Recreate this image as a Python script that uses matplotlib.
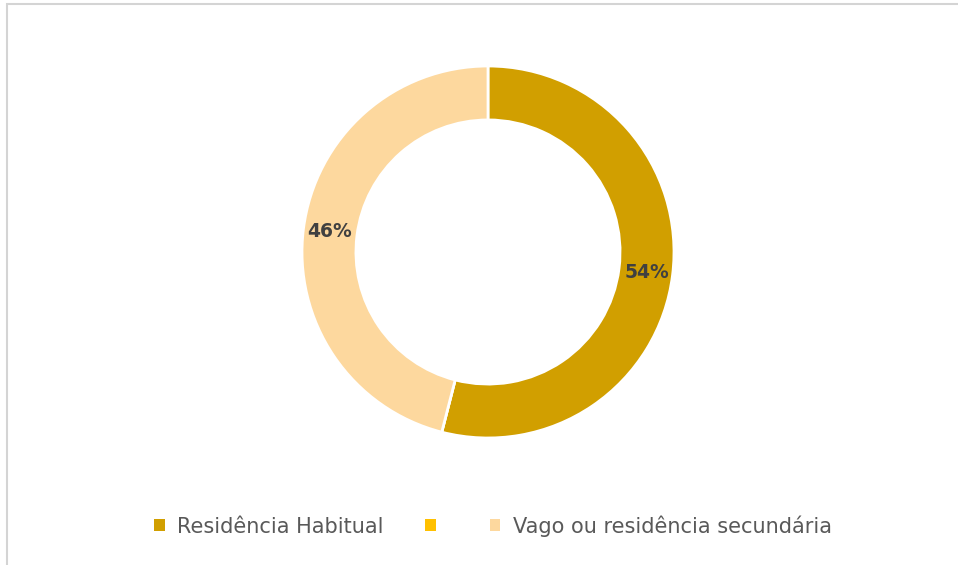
import matplotlib.pyplot as plt
from matplotlib.patches import Patch, Rectangle

categorias = ['Residência Habitual', '', 'Vago ou residência secundária']
valores = [54, 0, 46]
cores = ['#D19F00', '#FFC000', '#FDD89E']

W, H = 958, 565
fig = plt.figure(figsize=(W / 100, H / 100), dpi=100)
fig.patch.set_facecolor('white')

# moldura cinzenta (corta à direita e em baixo)
fig.add_artist(Rectangle((7 / W, -0.05), 1.1, (561 / H) + 0.05, transform=fig.transFigure,
                         fill=False, edgecolor='#D4D4D4', linewidth=1.5))

cx, cy, r = 488, 252, 186
ax = fig.add_axes([(cx - r) / W, (H - cy - r) / H, 2 * r / W, 2 * r / H])

wedges, texts, autotexts = ax.pie(
    valores, colors=cores, startangle=90, counterclock=False, radius=1,
    autopct=lambda p: f'{p:.0f}%' if p > 0 else '', pctdistance=0.86,
    wedgeprops=dict(width=0.29, edgecolor='white', linewidth=2),
    textprops=dict(fontsize=13.5, fontweight='bold', color='#404040'))
ax.set_xlim(-1, 1)
ax.set_ylim(-1, 1)
ax.set_aspect('equal')
ax.axis('off')

handles = [Patch(facecolor=c, edgecolor='none') for c in cores]
fig.legend(handles, categorias, loc='center', bbox_to_anchor=(493 / W, (H - 526) / H),
           ncol=3, frameon=False, fontsize=15, handlelength=0.5, handleheight=0.5,
           handletextpad=0.6, columnspacing=2.0, labelcolor='#595959')

fig.savefig('out.png', dpi=100)
